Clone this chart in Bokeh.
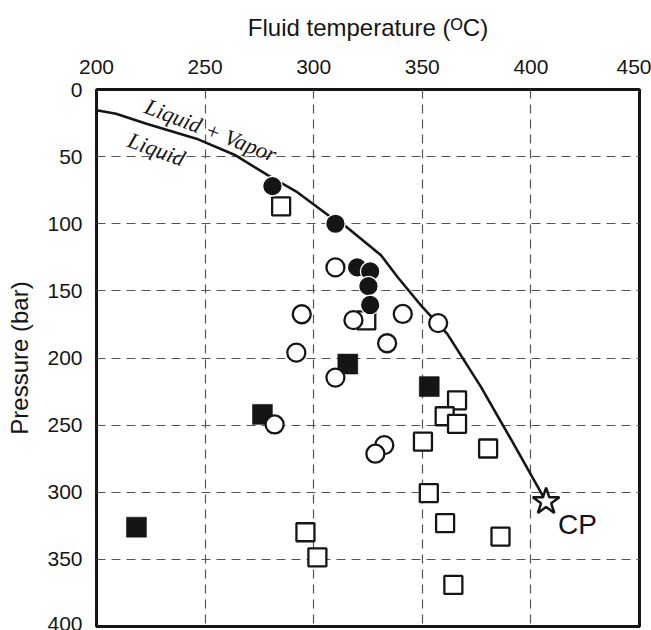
from bokeh.plotting import figure
from bokeh.models import Range1d, FixedTicker
from bokeh.core.properties import value
from bokeh.embed import file_html
from bokeh.resources import INLINE

# Two-phase boundary (boiling curve) of the fluid, ending at the critical point
curve_temp = [200, 209, 223, 246, 264, 279, 292, 307, 314, 331, 338.5, 350, 361.5, 377, 391, 407]
curve_pres = [15.4, 18, 25.5, 36.6, 49, 64, 76, 94, 101, 123.5, 139.5, 162, 182, 221.5, 261, 307]

# Critical point
cp_temp = [407]
cp_pres = [307]

# Fluid inclusion groups: temperature (degC) and pressure (bar)
filled_circle_temp = [281, 310, 320, 326, 325.2, 326]
filled_circle_pres = [72, 100, 132.5, 135.5, 146.5, 160.5]

open_circle_temp = [310, 294.5, 318.3, 341, 357.3, 333.8, 292, 310, 282, 332.5, 328.4]
open_circle_pres = [132.5, 167.4, 171.8, 167.2, 174, 189, 196, 214.6, 249.5, 264.9, 271.3]

filled_square_temp = [315.7, 353.2, 276.4, 218.4]
filled_square_pres = [204.5, 221.3, 242, 326]

open_square_temp = [285, 324.2, 366, 360.3, 366, 350.3, 380.3, 353, 360.5, 386, 296.2, 301.7, 364.3]
open_square_pres = [87, 172, 231.5, 243.4, 249, 262.3, 267.4, 300.6, 323, 333, 329.8, 348.5, 369]

x_ticks = [200, 250, 300, 350, 400, 450]
y_ticks = [0, 50, 100, 150, 200, 250, 300, 350, 400]

SANS = "Liberation Sans"
SERIF = "Liberation Serif"
INK = "#151515"

p = figure(
    width=651, height=630,
    x_range=Range1d(200, 450), y_range=Range1d(400, 0),
    x_axis_location="above",
    output_backend="svg", toolbar_location=None,
    min_border_left=96, min_border_right=12, min_border_top=89, min_border_bottom=4,
)
p.background_fill_color = "white"
p.border_fill_color = "white"
p.outline_line_color = INK
p.outline_line_width = 3

# Axes
p.xaxis.ticker = FixedTicker(ticks=x_ticks)
p.yaxis.ticker = FixedTicker(ticks=y_ticks)
p.xaxis.axis_label = "Fluid temperature (\u1d3cC)"
p.yaxis.axis_label = "Pressure (bar)"
for ax in (p.xaxis[0], p.yaxis[0]):
    ax.axis_line_color = None
    ax.major_tick_line_color = None
    ax.minor_tick_line_color = None
    ax.major_label_text_font = SANS
    ax.major_label_text_font_size = "21px"
    ax.major_label_text_color = INK
    ax.axis_label_text_font = SANS
    ax.axis_label_text_font_size = "24px"
    ax.axis_label_text_font_style = "normal"
    ax.axis_label_text_color = INK
p.xaxis.major_label_standoff = 10
p.xaxis.axis_label_standoff = 16
p.yaxis.major_label_standoff = 8
p.yaxis.axis_label_standoff = 11

# Dashed grid
p.xgrid.ticker = FixedTicker(ticks=[250, 300, 350, 400])
p.ygrid.ticker = FixedTicker(ticks=[50, 100, 150, 200, 250, 300, 350])
for g in (p.xgrid[0], p.ygrid[0]):
    g.grid_line_color = "#555555"
    g.grid_line_width = 1.2
    g.grid_line_dash = "9 6"

# Boiling curve
p.line(curve_temp, curve_pres, line_color=INK, line_width=2.6)

# Phase-field labels along the curve
p.text(x=[252.6], y=[30.5], text=["Liquid + Vapor"], angle=-21, angle_units="deg",
       text_align="center", text_baseline="middle", text_font=value(SERIF),
       text_font_style="italic", text_font_size="22.5px", text_color=INK)
p.text(x=[227.6], y=[44.6], text=["Liquid"], angle=-20, angle_units="deg",
       text_align="center", text_baseline="middle", text_font=value(SERIF),
       text_font_style="italic", text_font_size="22.5px", text_color=INK)

# Inclusion data
p.scatter(open_square_temp, open_square_pres, marker="square", size=18,
          fill_color="white", line_color=INK, line_width=2.3)
p.scatter(filled_square_temp, filled_square_pres, marker="square", size=20,
          fill_color=INK, line_color=INK, line_width=0.5)
p.scatter(open_circle_temp, open_circle_pres, marker="circle", size=18,
          fill_color="white", line_color=INK, line_width=2.3)
p.scatter(filled_circle_temp, filled_circle_pres, marker="circle", size=19.5,
          fill_color=INK, line_color="white", line_width=1.3)

# Critical point
p.scatter(cp_temp, cp_pres, marker="star", size=28,
          fill_color="white", line_color=INK, line_width=2.5)
p.text(x=[412.5], y=[324], text=["CP"], text_align="left", text_baseline="middle",
       text_font=value(SANS), text_font_size="28px", text_color=INK)

open("out.html", "w").write(file_html(p, INLINE))
